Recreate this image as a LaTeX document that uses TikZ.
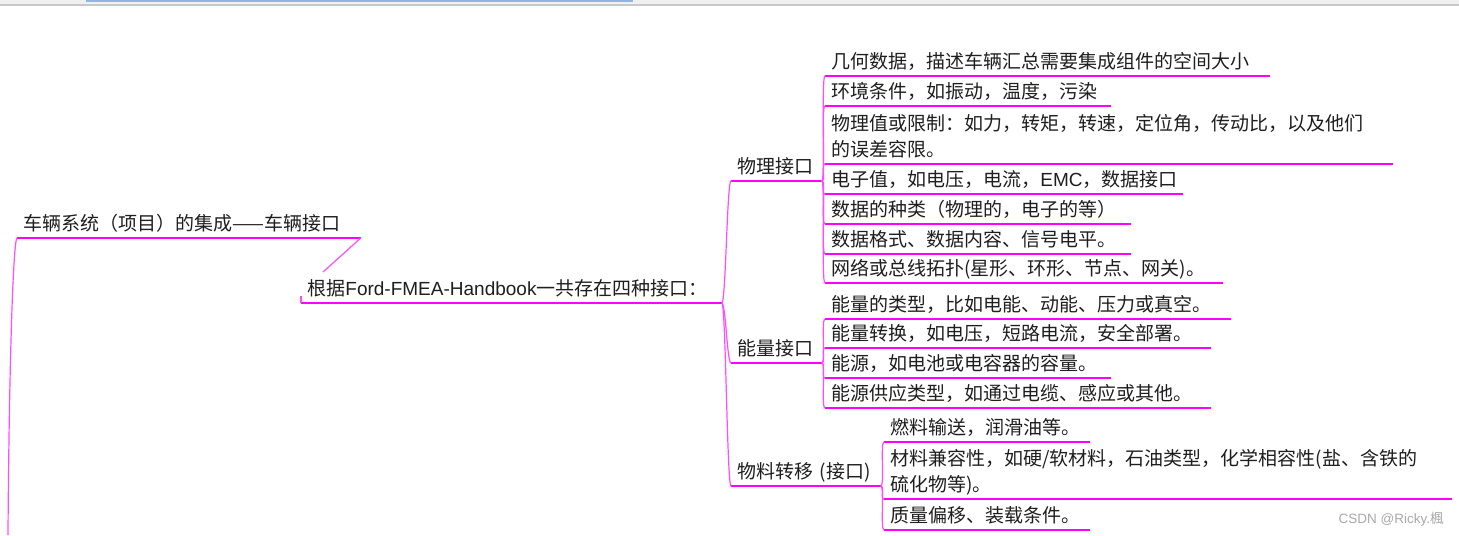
\documentclass[tikz,border=0pt]{standalone}
\usepackage{fontspec}
\setmainfont{Liberation Sans}
\newfontfamily\cjk{Noto Sans CJK SC}
\newcommand\latn[1]{{\rmfamily #1}}
\definecolor{mapline}{HTML}{FF00FF}
\definecolor{maptext}{HTML}{1E1E1E}
\definecolor{barfill}{HTML}{F0F0F0}
\definecolor{barrule}{HTML}{C8C8C8}
\definecolor{barblue}{HTML}{92B6E0}
\definecolor{markgray}{HTML}{A8A8A8}
\tikzset{
  topic/.style={anchor=south west, inner xsep=3pt, inner ysep=0pt, align=left,
    font=\cjk\fontsize{9.5}{13}\selectfont, text=maptext,
    execute at end node={\rule[-3.5pt]{0pt}{3.5pt}}},
  uline/.style={draw=mapline, line width=0.7pt},
  twig/.style={draw=mapline!70, line width=0.6pt},
  mm/.style={to path={.. controls +(4,0) and +(-4,0) .. (\tikztotarget)}}
}
\begin{document}
\begin{tikzpicture}[x=0.5pt,y=-0.5pt]
    \useasboundingbox (0,0) rectangle (1459,535);
    % Window strip
    \fill[barfill] (0,0) rectangle (1459,5);
    \draw[barrule, line width=1pt] (0,5.5) -- (1459,5.5);
    \fill[barblue] (86,0) rectangle (633,2.5);
    % Root
    \node[topic, text width=165.5pt] (root) at (17,238) {车辆系统（项目）的集成——车辆接口};
    \coordinate (rootdiag) at (323,272);
    \coordinate (rootdown) at (8,535);
    \draw[uline] (root.south west) -- (root.south east);
    \draw[twig] (root.south east) -- (rootdiag);
    \draw[twig] (root.south west) .. controls +(-4,3) and +(1,-160) .. (rootdown);
    % Handbook
    \node[topic, text width=204pt] (ford) at (301,303) {根据\latn{Ford-FMEA-Handbook}一共存在四种接口：};
    \coordinate (fordtick) at (301,296);
    \draw[uline] (ford.south west) -- (ford.south east);
    \draw[twig] (fordtick) -- (ford.south west);
    % Four interfaces
    \node[topic, text width=39pt] (phys) at (731,181) {物理接口};
    \node[topic, text width=39pt] (ener) at (731,363) {能量接口};
    \node[topic, text width=68.5pt] (matl) at (731,486) {物料转移 (接口)};
    \draw[uline] (phys.south west) -- (phys.south east);
    \draw[uline] (ener.south west) -- (ener.south east);
    \draw[uline] (matl.south west) -- (matl.south east);
    \draw[twig] (ford.south east) to[mm] (phys.south west);
    \draw[twig] (ford.south east) to[mm] (ener.south west);
    \draw[twig] (ford.south east) to[mm] (matl.south west);
    % Physical interface
    \node[topic, text width=216pt] (phys1) at (825,76) {几何数据，描述车辆汇总需要集成组件的空间大小};
    \node[topic, text width=136.5pt] (phys2) at (825,106) {环境条件，如振动，温度，污染};
    \node[topic, text width=277.5pt] (phys3) at (825,164) {物理值或限制：如力，转矩，转速，定位角，传动比，以及他们\\的误差容限。};
    \node[topic, text width=172.5pt] (phys4) at (825,194) {电子值，如电压，电流，\latn{EMC}，数据接口};
    \node[topic, text width=146.5pt] (phys5) at (825,224) {数据的种类（物理的，电子的等）};
    \node[topic, text width=146.5pt] (phys6) at (825,254) {数据格式、数据内容、信号电平。};
    \node[topic, text width=192.5pt] (phys7) at (825,283) {网络或总线拓扑(星形、环形、节点、网关)。};
    \draw[uline] (phys1.south west) -- (phys1.south east);
    \draw[uline] (phys2.south west) -- (phys2.south east);
    \draw[uline] (phys3.south west) -- (phys3.south east);
    \draw[uline] (phys4.south west) -- (phys4.south east);
    \draw[uline] (phys5.south west) -- (phys5.south east);
    \draw[uline] (phys6.south west) -- (phys6.south east);
    \draw[uline] (phys7.south west) -- (phys7.south east);
    \draw[twig] (phys.south east) to[mm] (phys1.south west);
    \draw[twig] (phys.south east) to[mm] (phys2.south west);
    \draw[twig] (phys.south east) to[mm] (phys3.south west);
    \draw[twig] (phys.south east) to[mm] (phys4.south west);
    \draw[twig] (phys.south east) to[mm] (phys5.south west);
    \draw[twig] (phys.south east) to[mm] (phys6.south west);
    \draw[twig] (phys.south east) to[mm] (phys7.south west);
    % Energy interface
    \node[topic, text width=196.5pt] (ener1) at (825,319) {能量的类型，比如电能、动能、压力或真空。};
    \node[topic, text width=186.5pt] (ener2) at (825,348) {能量转换，如电压，短路电流，安全部署。};
    \node[topic, text width=136.5pt] (ener3) at (825,378) {能源，如电池或电容器的容量。};
    \node[topic, text width=186.5pt] (ener4) at (825,408) {能源供应类型，如通过电缆、感应或其他。};
    \draw[uline] (ener1.south west) -- (ener1.south east);
    \draw[uline] (ener2.south west) -- (ener2.south east);
    \draw[uline] (ener3.south west) -- (ener3.south east);
    \draw[uline] (ener4.south west) -- (ener4.south east);
    \draw[twig] (ener.south east) to[mm] (ener1.south west);
    \draw[twig] (ener.south east) to[mm] (ener2.south west);
    \draw[twig] (ener.south east) to[mm] (ener3.south west);
    \draw[twig] (ener.south east) to[mm] (ener4.south west);
    % Material transfer
    \node[topic, text width=96.5pt] (matl1) at (884,442) {燃料输送，润滑油等。};
    \node[topic, text width=277.5pt] (matl2) at (884,499) {材料兼容性，如硬/软材料，石油类型，化学相容性(盐、含铁的\\硫化物等)。};
    \node[topic, text width=96.5pt] (matl3) at (884,530) {质量偏移、装载条件。};
    \draw[uline] (matl1.south west) -- (matl1.south east);
    \draw[uline] (matl2.south west) -- (matl2.south east);
    \draw[uline] (matl3.south west) -- (matl3.south east);
    \draw[twig] (matl.south east) to[mm] (matl1.south west);
    \draw[twig] (matl.south east) to[mm] (matl2.south west);
    \draw[twig] (matl.south east) to[mm] (matl3.south west);
    % Watermark
    \node[anchor=east, inner sep=0pt, text=markgray, font=\fontsize{6.75}{8}\selectfont] (mark) at (1444,519) {CSDN @Ricky.{\cjk 楓}};
\end{tikzpicture}
\end{document}
